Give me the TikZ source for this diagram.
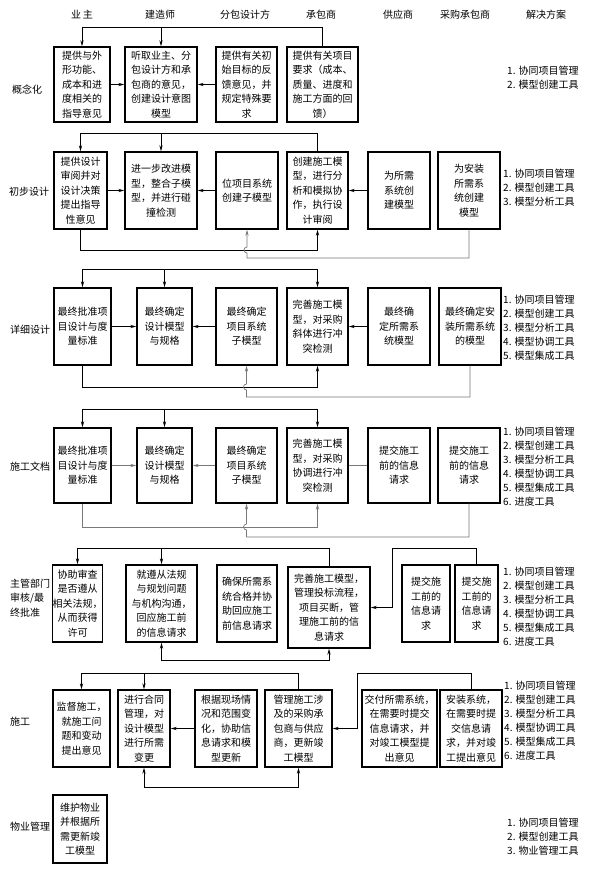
\documentclass[tikz,border=0pt]{standalone}
\usepackage{fontspec}
\setmainfont{Noto Sans CJK SC}
\usepackage{xcolor}
\definecolor{linegray}{RGB}{120,120,120}
\usetikzlibrary{arrows.meta, positioning, calc}

\tikzset{
  stage/.style={draw, line width=1.4pt, align=center, inner sep=0pt, font=\fontsize{10}{14.5}\selectfont},
  conn/.style={line width=0.7pt},
  soft/.style={conn, linegray},
  colhead/.style={font=\fontsize{10}{12}\selectfont},
  rowlabel/.style={anchor=west, align=left, inner sep=0pt, font=\fontsize{10}{14.5}\selectfont},
  tools/.style={anchor=west, align=left, inner sep=0pt, font=\fontsize{10}{14}\selectfont},
}

\begin{document}
\begin{tikzpicture}[x=1pt, y=-1pt, >={Stealth[length=6pt,width=3.2pt]}]
    \useasboundingbox (0,0) rectangle (596,872);

    \node[colhead] (h1) at (82,15) {业\,主};
    \node[colhead] (h2) at (160,15) {建造师};
    \node[colhead] (h3) at (245,15) {分包设计方};
    \node[colhead] (h4) at (321,15) {承包商};
    \node[colhead] (h5) at (398,15) {供应商};
    \node[colhead] (h6) at (465,15) {采购承包商};
    \node[colhead] (h7) at (546,15) {解决方案};

    \coordinate (bus1) at (0,27);
    \coordinate (bus2) at (0,133);
    \coordinate (low2) at (0,250);
    \coordinate (gray2) at (0,258);
    \coordinate (bus3) at (0,269);
    \coordinate (low3) at (0,387);
    \coordinate (gray3) at (0,397);
    \coordinate (bus4) at (0,409);
    \coordinate (low4) at (0,527);
    \coordinate (gray4) at (0,537);
    \coordinate (bus5) at (0,548);
    \coordinate (low5) at (0,660);
    \coordinate (bus6) at (0,673);
    \coordinate (low6) at (0,787);

    % 概念化
    \node[rowlabel] (lab1) at (12,90) {概念化};
    \node[stage, minimum width=56, minimum height=75] (r1a) at (82,84.5) {提供与外\\形功能、\\成本和进\\度相关的\\指导意见};
    \node[stage, minimum width=72, minimum height=75] (r1b) at (161,84.5) {听取业主、分\\包设计方和承\\包商的意见，\\创建设计意图\\模型};
    \node[stage, minimum width=61, minimum height=75] (r1c) at (246.5,84.5) {提供有关初\\始目标的反\\馈意见，并\\规定特殊要\\求};
    \node[stage, minimum width=71, minimum height=75] (r1d) at (322.5,84.5) {提供有关项目\\要求（成本、\\质量、进度和\\施工方面的回\\馈）};
    \node[tools] (sol1) at (507,78) {1. 协同项目管理\\2. 模型创建工具};

    \draw[conn, ->] (r1d.north) |- (r1a.north |- bus1) -- (r1a.north);
    \draw[conn, ->] (r1b.north |- bus1) -- (r1b.north);
    \draw[conn, ->] (r1a.east) -- (r1b.west);
    \draw[conn, ->] (r1c.west) -- (r1b.east);

    % 初步设计
    \node[rowlabel] (lab2) at (9,192) {初步设计};
    \node[stage, minimum width=53, minimum height=77] (r2a) at (80.5,190.5) {提供设计\\审阅并对\\设计决策\\提出指导\\性意见};
    \node[stage, minimum width=72, minimum height=77] (r2b) at (161,190.5) {进一步改进模\\型，整合子模\\型，并进行碰\\撞检测};
    \node[stage, minimum width=62, minimum height=77] (r2c) at (247,190.5) {位项目系统\\创建子模型};
    \node[stage, minimum width=61, minimum height=77] (r2d) at (317.5,190.5) {创建施工模\\型，进行分\\析和模拟协\\作，执行设\\计审阅};
    \node[stage, minimum width=62, minimum height=77] (r2e) at (399,190.5) {为所需\\系统创\\建模型};
    \node[stage, minimum width=62, minimum height=77] (r2f) at (469,190.5) {为安装\\所需系\\统创建\\模型};
    \node[tools] (sol2) at (503,187.5) {1. 协同项目管理\\2. 模型创建工具\\3. 模型分析工具};

    \draw[conn, ->] (r2d.north) |- (r2a.north |- bus2) -- (r2a.north);
    \draw[conn, ->] (r2b.north |- bus2) -- (r2b.north);
    \draw[conn, ->] (r2a.east) -- (r2b.west);
    \draw[conn, ->] (r2c.west) -- (r2b.east);
    \draw[conn, ->] (r2e.west) -- (r2d.east);
    \draw[conn, ->] (r2a.south) |- (r2d.south |- low2) -- (r2d.south);
    \draw[soft, ->] (r2f.south) |- (r2c.south |- gray2) -- ++(0,-5)
        arc[start angle=90, end angle=270, radius=3] -- (r2c.south);

    % 详细设计
    \node[rowlabel] (lab3) at (10,330) {详细设计};
    \node[stage, minimum width=57, minimum height=77] (r3a) at (82.5,326.5) {最终批准项\\目设计与度\\量标准};
    \node[stage, minimum width=55, minimum height=77] (r3b) at (164.5,326.5) {最终确定\\设计模型\\与规格};
    \node[stage, minimum width=61, minimum height=77] (r3c) at (246.5,326.5) {最终确定\\项目系统\\子模型};
    \node[stage, minimum width=61, minimum height=77] (r3d) at (317.5,326.5) {完善施工模\\型，对采购\\斜体进行冲\\突检测};
    \node[stage, minimum width=62, minimum height=77] (r3e) at (399,326.5) {最终确\\定所需系\\统模型};
    \node[stage, minimum width=62, minimum height=77] (r3f) at (470,326.5) {最终确定安\\装所需系统\\的模型};
    \node[tools] (sol3) at (503,327.5) {1. 协同项目管理\\2. 模型创建工具\\3. 模型分析工具\\4. 模型协调工具\\5. 模型集成工具};

    \draw[conn, <->] (r3a.north) |- (r3d.north |- bus3) -- (r3d.north);
    \draw[conn, ->] (r3b.north |- bus3) -- (r3b.north);
    \draw[conn, ->] (r3a.east) -- (r3b.west);
    \draw[conn, ->] (r3c.west) -- (r3b.east);
    \draw[conn, ->] (r3e.west) -- (r3d.east);
    \draw[conn, ->] (r3a.south) |- (r3d.south |- low3) -- (r3d.south);
    \draw[soft, ->] (r3f.south) |- (r3c.south |- gray3) -- ++(0,-7)
        arc[start angle=90, end angle=270, radius=3] -- (r3c.south);

    % 施工文档
    \node[rowlabel] (lab4) at (10,467) {施工文档};
    \node[stage, minimum width=57, minimum height=75] (r4a) at (82.5,465.5) {最终批准项\\目设计与度\\量标准};
    \node[stage, minimum width=55, minimum height=75] (r4b) at (164.5,465.5) {最终确定\\设计模型\\与规格};
    \node[stage, minimum width=61, minimum height=75] (r4c) at (246.5,465.5) {最终确定\\项目系统\\子模型};
    \node[stage, minimum width=61, minimum height=75] (r4d) at (317.5,465.5) {完善施工模\\型，对采购\\协调进行冲\\突检测};
    \node[stage, minimum width=62, minimum height=75] (r4e) at (399,465.5) {提交施工\\前的信息\\请求};
    \node[stage, minimum width=62, minimum height=75] (r4f) at (469,465.5) {提交施工\\前的信息\\请求};
    \node[tools] (sol4) at (503,467) {1. 协同项目管理\\2. 模型创建工具\\3. 模型分析工具\\4. 模型协调工具\\5. 模型集成工具\\6. 进度工具};

    \draw[conn, <->] (r4a.north) |- (r4d.north |- bus4) -- (r4d.north);
    \draw[conn, ->] (r4b.north |- bus4) -- (r4b.north);
    \draw[soft, ->] (r4a.east) -- (r4b.west);
    \draw[soft, ->] (r4c.west) -- (r4b.east);
    \draw[soft] (r4e.west) -- (r4d.east);
    \draw[soft, ->] (r4a.south) |- (r4d.south |- low4) -- (r4d.south);
    \draw[soft, ->] (r4f.south) |- (r4c.south |- gray4) -- ++(0,-7)
        arc[start angle=90, end angle=270, radius=3] -- (r4c.south);

    % 主管部门审核/最终批准
    \node[rowlabel] (lab5) at (10,598) {主管部门\\审核/最\\终批准};
    \node[stage, minimum width=49, minimum height=77] (r5a) at (77.5,603.5) {协助审查\\是否遵从\\相关法规，\\从而获得\\许可};
    \node[stage, minimum width=71, minimum height=77] (r5b) at (161.5,603.5) {就遵从法规\\与规划问题\\与机构沟通，\\回应施工前\\的信息请求};
    \node[stage, minimum width=60, minimum height=77] (r5c) at (247,603.5) {确保所需系\\统合格并协\\助回应施工\\前信息请求};
    \node[stage, minimum width=82, minimum height=81] (r5d) at (329,607.5) {完善施工模型，\\管理投标流程，\\项目买断，管\\理施工前的信\\息请求};
    \node[stage, minimum width=48, minimum height=77] (r5e) at (426,603.5) {提交施\\工前的\\信息请\\求};
    \node[stage, minimum width=43, minimum height=77] (r5f) at (476.5,603.5) {提交施\\工前的\\信息请\\求};
    \node[tools] (sol5) at (503,607) {1. 协同项目管理\\2. 模型创建工具\\3. 模型分析工具\\4. 模型协调工具\\5. 模型集成工具\\6. 进度工具};

    \draw[conn, ->] (r5d.north) |- (r5a.north |- bus5) -- (r5a.north);
    \draw[conn, ->] (r5b.north |- bus5) -- (r5b.north);
    \draw[conn, ->] (r5f.north) |- ($(r5d.east |- bus5)+(22,0)$) |- (r5d.east);
    \draw[conn, <->] (r5b.south) |- (r5d.south |- low5) -- (r5d.south);

    % 施工
    \node[rowlabel] (lab6) at (10,722) {施工};
    \node[stage, minimum width=57, minimum height=77] (r6a) at (81.5,728.5) {监督施工，\\就施工问\\题和变动\\提出意见};
    \node[stage, minimum width=52, minimum height=77] (r6b) at (144,728.5) {进行合同\\管理，对\\设计模型\\进行所需\\变更};
    \node[stage, minimum width=62, minimum height=77] (r6c) at (226,728.5) {根据现场情\\况和范围变\\化，协助信\\息请求和模\\型更新};
    \node[stage, minimum width=67, minimum height=77] (r6d) at (298.5,728.5) {管理施工涉\\及的采购承\\包商与供应\\商，更新竣\\工模型};
    \node[stage, minimum width=75, minimum height=77] (r6e) at (399.5,728.5) {交付所需系统，\\在需要时提交\\信息请求，并\\对竣工模型提\\出意见};
    \node[stage, minimum width=62, minimum height=77] (r6f) at (471,728.5) {安装系统，\\在需要时提\\交信息请\\求，并对竣\\工提出意见};
    \node[tools] (sol6) at (504,721) {1. 协同项目管理\\2. 模型创建工具\\3. 模型分析工具\\4. 模型协调工具\\5. 模型集成工具\\6. 进度工具};

    \draw[conn, ->] (r6d.north) |- (r6a.north |- bus6) -- (r6a.north);
    \draw[conn, ->] (r6b.north |- bus6) -- (r6b.north);
    \draw[conn, ->] (r6f.north) |- ($(r6d.east |- bus6)+(25,0)$) |- (r6d.east);
    \draw[conn, ->] (r6c.west) -- (r6b.east);
    \draw[conn, <->] (r6b.south) |- (r6d.south |- low6) -- (r6d.south);

    % 物业管理
    \node[rowlabel] (lab7) at (10,827) {物业管理};
    \node[stage, minimum width=54, minimum height=68] (r7a) at (80,829) {维护物业\\并根据所\\需更新竣\\工模型};
    \node[tools] (sol7) at (507,837) {1. 协同项目管理\\2. 模型创建工具\\3. 物业管理工具};
\end{tikzpicture}
\end{document}
